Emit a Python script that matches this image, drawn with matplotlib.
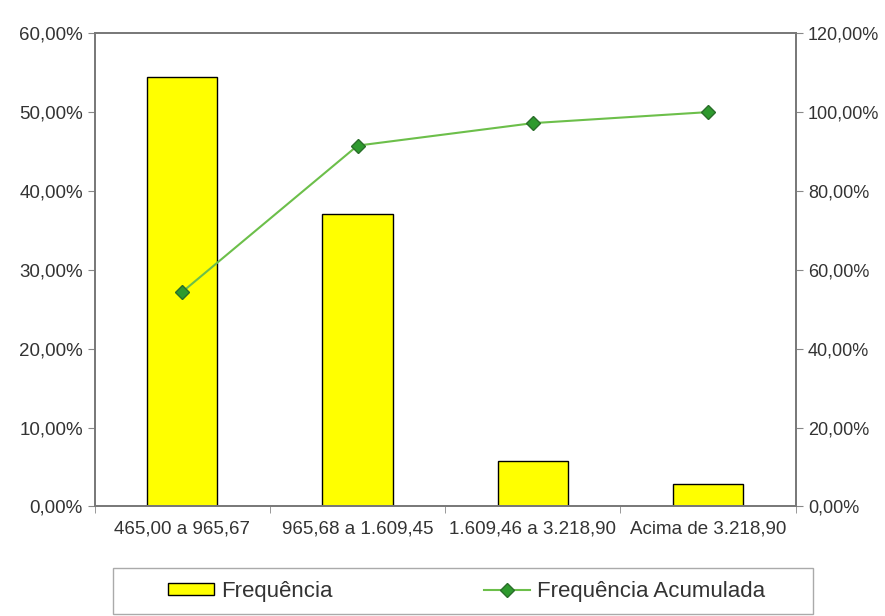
import numpy as np
import matplotlib
matplotlib.use("Agg")
import matplotlib.pyplot as plt
from matplotlib.patches import Rectangle
from matplotlib.ticker import FuncFormatter, FixedLocator

plt.rcParams['font.family'] = ['Liberation Sans', 'DejaVu Sans']

cats = ["465,00 a 965,67", "965,68 a 1.609,45", "1.609,46 a 3.218,90", "Acima de 3.218,90"]
freq = [54.4, 37.1, 5.7, 2.8]
freq_acum = [54.4, 91.5, 97.2, 100.0]

txt = "#333333"
pct = FuncFormatter(lambda v, p: ("%.2f%%" % v).replace(".", ","))

fig = plt.figure(figsize=(8.85, 6.16), dpi=100)
ax = fig.add_axes([0.107, 0.178, 0.792, 0.768])
x = np.arange(len(cats))
bars = ax.bar(x, freq, width=0.4, color="#ffff00", edgecolor="black", linewidth=1.0,
              label="Frequência", zorder=2)
ax.set_xlim(-0.5, len(cats) - 0.5)
ax.set_ylim(0, 60)
ax.set_yticks(np.arange(0, 61, 10))
ax.yaxis.set_major_formatter(pct)
ax.set_xticks(x)
ax.set_xticklabels(cats)
ax.xaxis.set_minor_locator(FixedLocator(np.arange(-0.5, len(cats), 1)))
ax.tick_params(axis="x", which="major", length=0, pad=10)
ax.tick_params(axis="x", which="minor", length=5, color="#888888")
ax.tick_params(axis="y", length=5, color="#888888")
ax.tick_params(labelsize=13.5, labelcolor=txt)
for s in ax.spines.values():
    s.set_color("#777777")
    s.set_linewidth(1.2)

ax2 = ax.twinx()
ln, = ax2.plot(x, freq_acum, color="#6cbf4a", linewidth=1.5, marker="D", markersize=7,
               markerfacecolor="#2e9a2e", markeredgecolor="#2a6e2a", label="Frequência Acumulada",
               zorder=3)
ax2.set_ylim(0, 120)
ax2.set_yticks(np.arange(0, 121, 20))
ax2.yaxis.set_major_formatter(pct)
ax2.tick_params(axis="y", length=5, color="#888888", labelsize=13, labelcolor=txt, pad=4)
for s in ax2.spines.values():
    s.set_color("#777777")
    s.set_linewidth(1.2)

# legend (frame drawn separately, Excel-style wide box at the bottom)
leg = fig.legend([bars, ln], ["Frequência", "Frequência Acumulada"], loc="center",
                 bbox_to_anchor=(0.527, 0.040), ncol=2, fontsize=16, frameon=False,
                 columnspacing=6.8, handlelength=2.1, handleheight=0.5, handletextpad=0.3)
for t in leg.get_texts():
    t.set_color(txt)
fig.patches.append(Rectangle((113 / 885, 0.004), 700 / 885, 46 / 616, transform=fig.transFigure,
                             fill=False, edgecolor="#aaaaaa", linewidth=1.0))

fig.savefig("out.png", dpi=100)
